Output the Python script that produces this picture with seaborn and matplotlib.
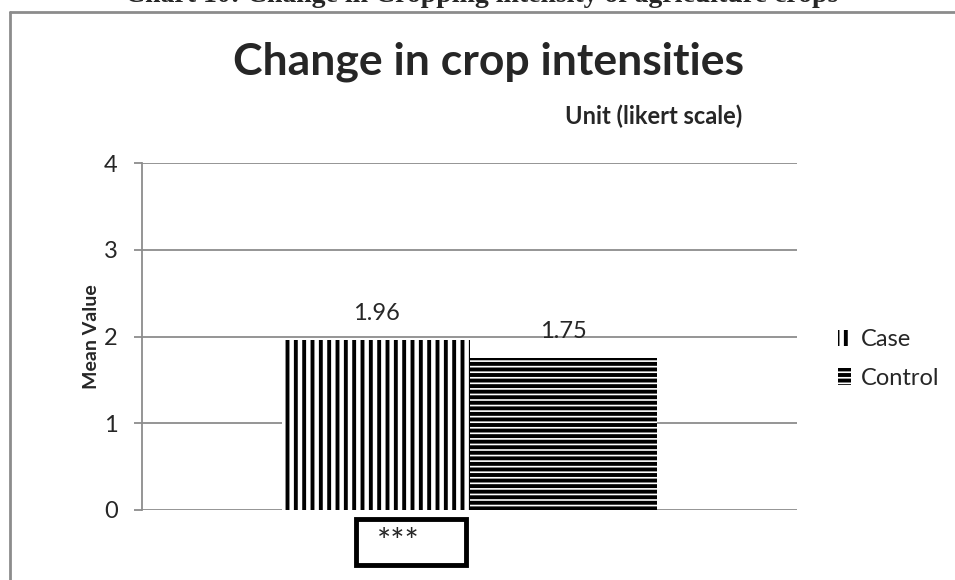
import pandas as pd
import seaborn as sns
import matplotlib.pyplot as plt
from matplotlib.patches import Patch, Rectangle
from matplotlib.lines import Line2D

# data
groups = ['Case', 'Control']
mean_values = [1.96, 1.75]
category = ['Change in crop intensities', 'Change in crop intensities']
hatches = ['||', '---']
yticks = [0, 1, 2, 3, 4]

df = pd.DataFrame({'category': category, 'group': groups, 'value': mean_values})

sns.set_style('white')
plt.rcParams['font.family'] = ['Lato', 'DejaVu Sans']
plt.rcParams['hatch.linewidth'] = 2.8
plt.rcParams['hatch.color'] = 'black'

fig = plt.figure(figsize=(9.55, 5.8), dpi=100)
ax = fig.add_axes([142/955, 1 - 510/580, 655/955, 347/580])

sns.barplot(data=df, x='category', y='value', hue='group', ax=ax,
            width=0.571, gap=0, palette=['white', 'white'], legend=False,
            edgecolor='none', linewidth=0)

bars = [p for p in ax.patches if p.get_height() > 0]
for bar, h in zip(bars, hatches):
    bar.set_hatch(h)
    bar.set_edgecolor('black')
    bar.set_linewidth(0)

# data labels
for bar, v in zip(bars, mean_values):
    ax.text(bar.get_x() + bar.get_width() / 2, v + 0.31, f'{v:.2f}',
            ha='center', va='center', fontsize=17)

ax.set_xlim(-0.5, 0.5)
ax.set_ylim(0, 4)
ax.set_yticks(yticks)
ax.set_yticklabels([str(t) for t in yticks], fontsize=17)
ax.set_xticks([])
ax.set_xlabel('')
ax.set_ylabel('Mean Value', fontsize=14, fontweight='bold', labelpad=3)
ax.yaxis.grid(True, color='#8c8c8c', linewidth=1.3)
ax.set_axisbelow(True)
for s in ['top', 'right', 'bottom']:
    ax.spines[s].set_visible(False)
ax.spines['left'].set_color('#8c8c8c')
ax.spines['left'].set_linewidth(1.3)
ax.tick_params(axis='y', which='major', direction='out', length=5.5,
               color='#8c8c8c', width=1.3, left=True, pad=12)

# titles
fig.text(488/955, 1 - 74/580, 'Change in crop intensities', ha='center',
         va='baseline', fontsize=32, fontweight='bold')
fig.text(742/955, 1 - 116/580, 'Unit (likert scale)', ha='right',
         va='center', fontsize=17, fontweight='bold')
fig.text(482/955, 1 + 4/580, 'Chart 10: Change in Cropping intensity of agriculture crops',
         ha='center', va='center', fontsize=20, fontweight='bold',
         family=['Liberation Serif', 'DejaVu Serif'])

# outer frame (cut off at right and bottom)
fig.add_artist(Line2D([10/955, 10/955], [0, 1 - 12/580], transform=fig.transFigure,
                      color='#8c8c8c', linewidth=2))
fig.add_artist(Line2D([10/955, 1], [1 - 12/580, 1 - 12/580], transform=fig.transFigure,
                      color='#8c8c8c', linewidth=2))

# significance box
fig.add_artist(Rectangle((356/955, 1 - 565/580), 110/955, 46/580,
                         transform=fig.transFigure, fill=False,
                         edgecolor='black', linewidth=3.5))
fig.text(377/955, 1 - 543/580, '***', ha='left', va='center', fontsize=24)

# legend
handles = [Patch(facecolor='white', edgecolor='black', hatch=h, linewidth=0)
           for h in hatches]
fig.legend(handles, groups, loc='center left', bbox_to_anchor=(838/955, 1 - 359/580),
           frameon=False, fontsize=17, handlelength=0.55, handleheight=0.7,
           handletextpad=0.4, labelspacing=0.75, borderaxespad=0, borderpad=0)

fig.savefig('out.png', dpi=100)
